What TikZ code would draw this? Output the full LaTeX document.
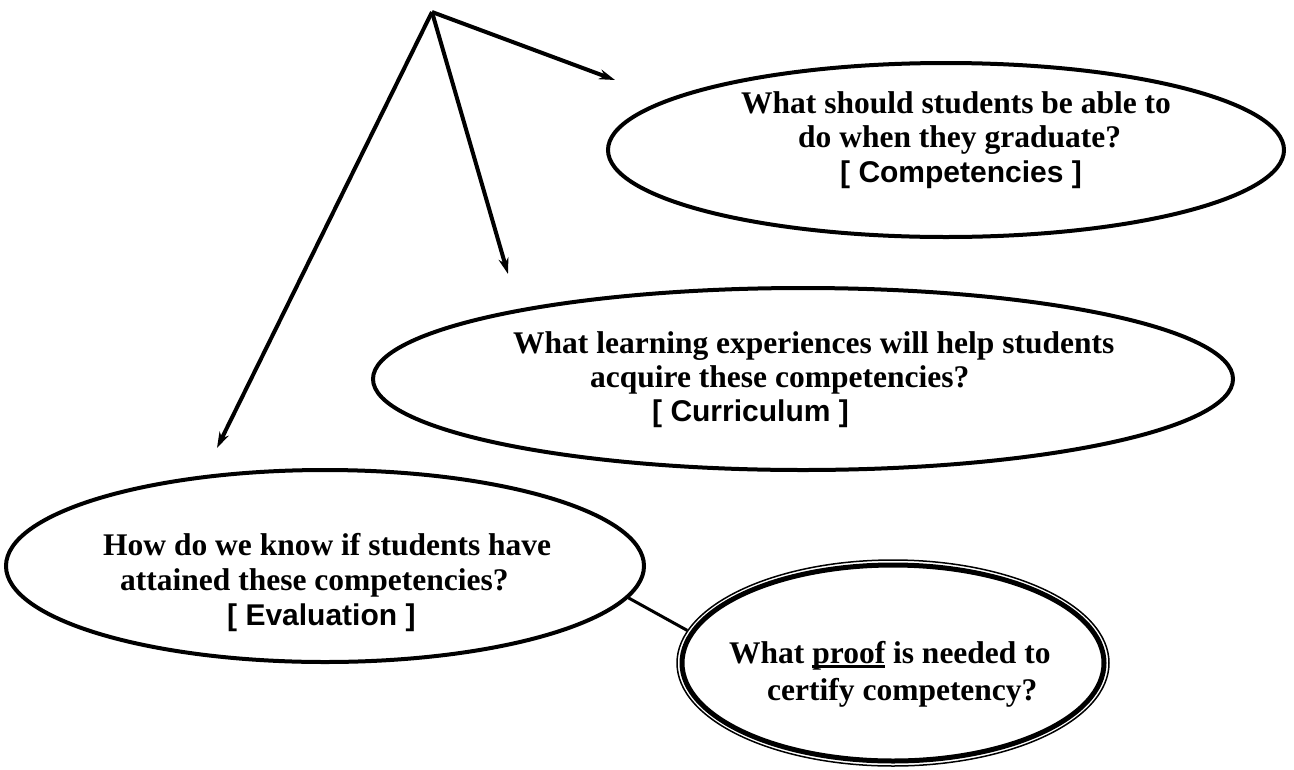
\documentclass[tikz,border=0pt]{standalone}
\usepackage{fontspec}
\setmainfont{Liberation Serif}
\newfontfamily\qfont{Liberation Serif}
\newfontfamily\lfont{Liberation Sans}
\usetikzlibrary{arrows.meta,shapes.geometric}
\newcommand\myul[1]{\leavevmode\setbox0=\hbox{#1}\rlap{\rule[-4.5pt]{\wd0}{3pt}}\box0\relax}
\begin{document}
\begin{tikzpicture}[x=1pt,y=-1pt,
  bubble/.style={draw, ellipse, line width=4pt, inner sep=0pt},
  qline/.style={font=\qfont\bfseries\fontsize{31.5}{36}\selectfont, anchor=base west, inner sep=0pt},
  tline/.style={font=\lfont\bfseries\fontsize{30}{36}\selectfont, anchor=base west, inner sep=0pt},
  arr/.style={line width=4pt, -{Stealth[length=16pt,width=10pt,inset=5pt]}},
  link/.style={line width=3pt}]
\useasboundingbox (0,0) rectangle (1294,769);
% ellipses
\node[bubble, minimum width=676pt, minimum height=174pt] (e1) at (946,150) {};
\node[bubble, minimum width=860pt, minimum height=182pt] (e2) at (803,379) {};
\node[bubble, minimum width=638pt, minimum height=192pt] (e3) at (325,566) {};
\node[draw, ellipse, line width=1.5pt, inner sep=0pt, minimum width=432pt, minimum height=206pt] (e4) at (893,663) {};
\draw[line width=5pt] (e4.center) ellipse [x radius=211pt, y radius=98pt];
% texts
\node[qline] (t1a) at (741,113) {What should students be able to};
\node[qline] (t1b) at (798,147) {do when they graduate?};
\node[tline] (t1c) at (840,182) {[ Competencies ]};
\node[qline] (t2a) at (513,353) {What learning experiences will help students};
\node[qline] (t2b) at (590,387) {acquire these competencies?};
\node[tline] (t2c) at (652,421) {[ Curriculum ]};
\node[qline] (t3a) at (103,555) {How do we know if students have};
\node[qline] (t3b) at (120,590) {attained these competencies?};
\node[tline] (t3c) at (227,625) {[ Evaluation ]};
\node[qline] (t4a) at (729,663) {What \myul{proof} is needed to};
\node[qline] (t4b) at (767,700) {certify competency?};
% arrows
\coordinate (apex) at (432,12);
\coordinate (a1) at (615,80);
\coordinate (a2) at (508,274);
\coordinate (a3) at (217,448);
\draw[arr] (apex) -- (a1);
\draw[arr] (apex) -- (a2);
\draw[arr] (apex) -- (a3);
% link
\draw[link] (e3.-6) -- (e4.171);
\end{tikzpicture}
\end{document}
